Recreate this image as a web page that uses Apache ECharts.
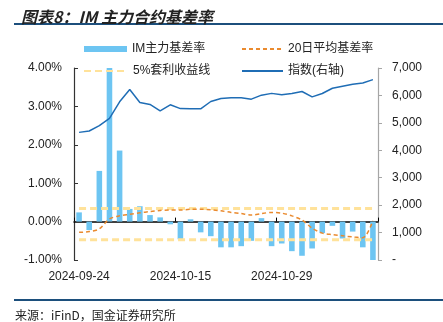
<!DOCTYPE html>
<html><head><meta charset="utf-8">
<script src="https://cdn.jsdelivr.net/npm/echarts@6/dist/echarts.min.js"></script>
<style>html,body{margin:0;padding:0;background:#fff}#c{width:443px;height:322px}</style>
</head><body><div id="c"></div>
<script>
const dates = ['2024-09-24','2024-09-25','2024-09-26','2024-09-27','2024-09-30','2024-10-08','2024-10-09','2024-10-10','2024-10-11','2024-10-14',
'2024-10-15','2024-10-16','2024-10-17','2024-10-18','2024-10-21','2024-10-22','2024-10-23','2024-10-24','2024-10-25','2024-10-28',
'2024-10-29','2024-10-30','2024-10-31','2024-11-01','2024-11-04','2024-11-05','2024-11-06','2024-11-07','2024-11-08','2024-11-11'];
const basis = [0.24,-0.22,1.32,4.0,1.85,0.33,0.40,0.17,0.11,-0.07,
-0.46,0.06,-0.28,-0.38,-0.67,-0.67,-0.64,-0.50,0.09,-0.64,
-0.57,-0.77,-0.89,-0.70,-0.30,-0.11,-0.44,-0.26,-0.67,-1.05];
const avg20 = [-0.28,-0.26,-0.19,0.07,0.15,0.19,0.23,0.26,0.29,0.30,
0.30,0.32,0.32,0.31,0.28,0.24,0.21,0.17,0.21,0.24,
0.22,0.15,0.04,-0.17,-0.30,-0.34,-0.37,-0.40,-0.42,0.02];
const arbHigh = [0.34,0.34,0.34,0.34,0.34,0.34,0.34,0.34,0.34,0.34,0.34,0.34,0.34,0.34,0.34,0.34,0.34,0.34,0.34,0.34,0.34,0.34,0.34,0.34,0.34,0.34,0.34,0.34,0.34,0.34];
const arbLow = [-0.47,-0.47,-0.47,-0.47,-0.47,-0.47,-0.47,-0.47,-0.47,-0.47,-0.47,-0.47,-0.47,-0.47,-0.47,-0.47,-0.47,-0.47,-0.47,-0.47,-0.47,-0.47,-0.47,-0.47,-0.47,-0.47,-0.47,-0.47,-0.47,-0.47];
const indexVals = [4653,4703,4897,5161,5767,6214,5743,5670,5440,5658,
5520,5513,5513,5779,5887,5912,5912,5864,6010,6075,
6021,6070,6142,5948,6070,6263,6336,6409,6456,6577];
const leftTicks = {min:-1, max:4, interval:1};
const rightTicks = {min:0, max:7000, interval:1000};

const FONT = '"Liberation Sans","Noto Sans CJK SC",Arial,sans-serif';
const chart = echarts.init(document.getElementById('c'), null, {renderer:'canvas'});
const BAR = '#6DC5F2', ORANGE = '#EA8A2E', YELLOW = '#FFE29A', BLUE = '#1F6DB5';
const legendBase = {orient:'horizontal', textStyle:{fontSize:12, color:'#222', fontFamily:FONT}, itemGap:10, selectedMode:false};
const noSym = {opacity:0};
chart.setOption({
  backgroundColor:'#fff',
  animation:false,
  title:{text:'图表8：IM 主力合约基差率', left:16, top:4,
    textStyle:{fontSize:16, fontWeight:'bold', fontStyle:'italic', color:'#222', fontFamily:'"Noto Sans CJK SC",sans-serif'}},
  graphic:[
    {type:'line', shape:{x1:14,y1:24,x2:443,y2:24}, style:{stroke:'#1C4F7C', lineWidth:2}},
    {type:'line', shape:{x1:14,y1:300,x2:443,y2:300}, style:{stroke:'#1C4F7C', lineWidth:2}},
    {type:'text', left:15, top:309, style:{text:'来源：iFinD，国金证券研究所', fill:'#222', font:'12px "Noto Sans CJK SC", sans-serif'}}
  ],
  legend:[
    Object.assign({}, legendBase, {left:79, top:38, itemWidth:43, itemHeight:6, data:[{name:'IM主力基差率', icon:'rect'}]}),
    Object.assign({}, legendBase, {left:236, top:38, itemWidth:41, itemHeight:14, data:[{name:'20日平均基差率', itemStyle:noSym}]}),
    Object.assign({}, legendBase, {left:78, top:60, itemWidth:44, itemHeight:14, data:[{name:'5%套利收益线', itemStyle:noSym}]}),
    Object.assign({}, legendBase, {left:236, top:60, itemWidth:41, itemHeight:14, data:[{name:'指数(右轴)', itemStyle:noSym}]})
  ],
  grid:{left:74, right:65, top:68, bottom:62, containLabel:false},
  xAxis:[
    {type:'category', data:dates, position:'bottom', boundaryGap:true,
     axisLine:{show:false, onZero:false}, axisTick:{show:false},
     axisLabel:{interval:9, margin:11, fontSize:12, color:'#222', fontFamily:FONT}},
    {type:'category', data:dates, position:'bottom', boundaryGap:true,
     axisLine:{show:true, onZero:true, onZeroAxisIndex:0, lineStyle:{color:'#000', width:1.5}},
     axisTick:{show:true, inside:true, interval:9, length:4, lineStyle:{color:'#000'}},
     axisLabel:{show:false}}
  ],
  yAxis:[
    {type:'value', min:leftTicks.min, max:leftTicks.max, interval:leftTicks.interval, position:'left',
     axisLine:{show:true, lineStyle:{color:'#333', width:1.2}},
     axisTick:{show:true, inside:true, length:4, lineStyle:{color:'#333'}},
     splitLine:{show:false},
     axisLabel:{margin:12, fontSize:12, color:'#222', fontFamily:FONT, formatter:v=>v.toFixed(2)+'%'}},
    {type:'value', min:rightTicks.min, max:rightTicks.max, interval:rightTicks.interval, position:'right',
     axisLine:{show:true, lineStyle:{color:'#A6A6A6', width:1.2}},
     axisTick:{show:true, inside:false, length:4, lineStyle:{color:'#A6A6A6'}},
     splitLine:{show:false},
     axisLabel:{margin:14, fontSize:12, color:'#222', fontFamily:FONT,
       formatter:v=> v===0 ? '-' : v.toLocaleString('en-US')}}
  ],
  series:[
    {name:'IM主力基差率', type:'bar', xAxisIndex:0, yAxisIndex:0, data:basis, barWidth:'55%',
     itemStyle:{color:BAR}, clip:true, z:2},
    {name:'5%套利收益线', type:'line', xAxisIndex:0, yAxisIndex:0, data:arbHigh, symbol:'none',
     lineStyle:{color:YELLOW, width:3, type:[7,4]}, itemStyle:{color:YELLOW}, z:3},
    {name:'5%套利收益线', type:'line', xAxisIndex:0, yAxisIndex:0, data:arbLow, symbol:'none',
     lineStyle:{color:YELLOW, width:3, type:[7,4]}, itemStyle:{color:YELLOW}, z:3},
    {name:'20日平均基差率', type:'line', xAxisIndex:0, yAxisIndex:0, data:avg20, symbol:'none', smooth:0.3,
     lineStyle:{color:ORANGE, width:1.5, type:[4,3]}, itemStyle:{color:ORANGE}, z:4},
    {name:'指数(右轴)', type:'line', xAxisIndex:0, yAxisIndex:1, data:indexVals, symbol:'none',
     lineStyle:{color:BLUE, width:1.5}, itemStyle:{color:BLUE}, z:5}
  ]
});
</script>
</body></html>
